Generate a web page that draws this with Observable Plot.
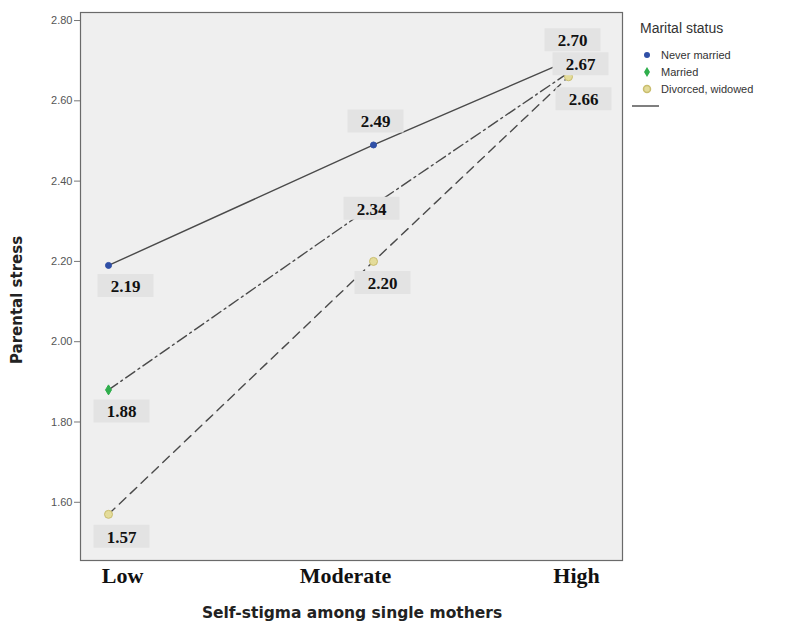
<!DOCTYPE html>
<html>
<head>
<meta charset="utf-8">
<script src="https://cdn.jsdelivr.net/npm/d3@7"></script>
<script src="https://cdn.jsdelivr.net/npm/@observablehq/plot@0.6"></script>
<style>
  body { margin: 0; background: #fff; }
  #wrap { position: relative; width: 790px; height: 625px; }
  #legend { position: absolute; left: 640px; top: 20px; font-family: "Liberation Sans", Arial, sans-serif; color: #333; }
  #legend .title { font-size: 14px; margin-bottom: 10px; }
  #legend .item { font-size: 11px; display: flex; align-items: center; height: 17px; }
  #legend .sym { width: 20px; display: inline-flex; justify-content: flex-start; padding-left: 1px; }
</style>
</head>
<body>
<div id="wrap">
  <div id="chart"></div>
  <div id="legend"></div>
</div>
<script>
// ---- data ----
const levels = ["Low", "Moderate", "High"];
const seriesNames = ["Never married", "Married", "Divorced, widowed"];
const neverMarried = [2.19, 2.49, 2.70];
const married = [1.88, 2.34, 2.67];
const divorced = [1.57, 2.20, 2.66];
const yTicks = [1.60, 1.80, 2.00, 2.20, 2.40, 2.60, 2.80];

// ---- styles ----
const pointFill = ["#2f4fa6", "#2fae4c", "#e4dc9a"];
const pointStroke = ["#2f4fa6", "#2fae4c", "#c9bd6e"];
const dashes = [null, "11,4,2,4", "9,6"];
// label offsets [series][level] = [dx, dy]
const labelOffsets = [
  [[17, 20], [2, -24], [4, -21]],
  [[13, 21], [-2, 3], [12, -9]],
  [[13, 22], [9, 21], [15, 22]]
];

const allValues = [neverMarried, married, divorced];
const rows = [];
allValues.forEach((vals, s) => vals.forEach((v, i) => rows.push({series: seriesNames[s], s, i, level: levels[i], value: v})));

const boxSymbol = {draw(ctx) { ctx.rect(-28, -11.5, 56, 23); }};
const diamondSymbol = {draw(ctx) { ctx.moveTo(0, -5); ctx.lineTo(3, 0); ctx.lineTo(0, 5); ctx.lineTo(-3, 0); ctx.closePath(); }};

const marks = [
  Plot.frame({fill: "#efefef"}),
  Plot.axisY({ticks: yTicks, tickFormat: d3.format(".2f"), tickSize: 6, stroke: "#777", fill: "#555", fontSize: 11, label: null, tickPadding: 2})
];
allValues.forEach((vals, s) => {
  const d = rows.filter(r => r.s === s);
  marks.push(Plot.line(d, {x: "i", y: "value", stroke: "#4a4a4a", strokeWidth: 1.4, strokeDasharray: dashes[s]}));
});
allValues.forEach((vals, s) => {
  const d = rows.filter(r => r.s === s);
  marks.push(Plot.dot(d, {x: "i", y: "value", r: s === 2 ? 4 : 3, fill: pointFill[s], stroke: pointStroke[s], strokeWidth: 1, symbol: s === 1 ? diamondSymbol : "circle"}));
});
rows.forEach(r => {
  const [dx, dy] = labelOffsets[r.s][r.i];
  marks.push(Plot.dot([r], {x: "i", y: "value", dx, dy, symbol: boxSymbol, fill: "#e3e3e3", stroke: null}));
  marks.push(Plot.text([r], {x: "i", y: "value", dx, dy: dy + 1, text: d => d3.format(".2f")(d.value), fontFamily: "Liberation Serif", fontWeight: "bold", fontSize: 17, fill: "#111"}));
});
// category labels
const catDx = [14, -28, 8];
levels.forEach((l, i) => {
  marks.push(Plot.text([i], {x: d => d, frameAnchor: "bottom", dy: 22, dx: catDx[i], text: d => levels[d], fontFamily: "Liberation Serif", fontWeight: "bold", fontSize: 22, fill: "#111"}));
});

const chart = Plot.plot({
  width: 790,
  height: 625,
  marginLeft: 80,
  marginRight: 168,
  marginTop: 12,
  marginBottom: 65,
  style: {background: "#fff", fontFamily: "Liberation Sans, Arial, sans-serif"},
  x: {type: "linear", domain: [0, 1, 2], range: [108, 373, 568], axis: null},
  y: {domain: [1.455, 2.82], label: null},
  marks: [
    ...marks,
    Plot.frame({stroke: "#6a6a6a", strokeWidth: 1.2})
  ]
});
document.getElementById("chart").appendChild(chart);

// axis titles added as svg text
const svg = d3.select(chart);
svg.append("text")
  .attr("x", 352).attr("y", 618)
  .attr("text-anchor", "middle")
  .attr("font-family", "DejaVu Sans, sans-serif").attr("font-weight", "bold").attr("font-size", 15.5).attr("fill", "#222")
  .text("Self-stigma among single mothers");
svg.append("text")
  .attr("transform", "translate(22,300) rotate(-90)")
  .attr("text-anchor", "middle")
  .attr("font-family", "DejaVu Sans, sans-serif").attr("font-weight", "bold").attr("font-size", 15).attr("fill", "#222")
  .text("Parental stress");

// legend
const lg = d3.select("#legend");
lg.append("div").attr("class", "title").text("Marital status");
seriesNames.forEach((n, s) => {
  const it = lg.append("div").attr("class", "item");
  const sym = it.append("span").attr("class", "sym").append("svg").attr("width", 12).attr("height", 12);
  if (s === 1) sym.append("path").attr("d", "M6,1L9,6L6,11L3,6Z").attr("fill", pointFill[s]);
  else sym.append("circle").attr("cx", 6).attr("cy", 6).attr("r", s === 2 ? 3.5 : 3).attr("fill", pointFill[s]).attr("stroke", pointStroke[s]).attr("stroke-width", s === 2 ? 1.5 : 0);
  it.append("span").text(n);
});
const ln = lg.append("svg").attr("width", 30).attr("height", 12).style("margin-left", "-8px").style("margin-top", "4px").style("display", "block");
ln.append("line").attr("x1", 0).attr("x2", 27).attr("y1", 5).attr("y2", 5).attr("stroke", "#555").attr("stroke-width", 1.5);
</script>
</body>
</html>
